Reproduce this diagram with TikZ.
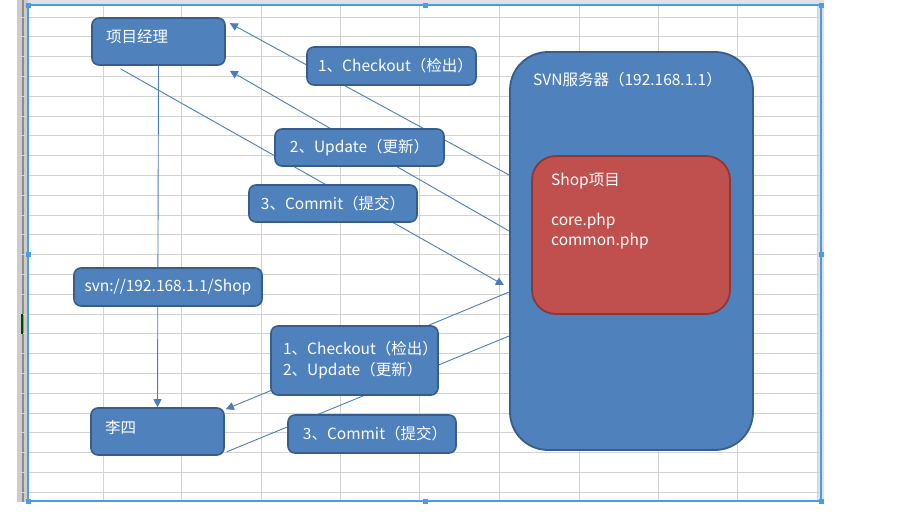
\documentclass[tikz,border=0pt]{standalone}
\usepackage{fontspec}
\setmainfont{Noto Sans CJK SC}
\usetikzlibrary{arrows.meta,backgrounds,calc,positioning}

\definecolor{boxblue}{HTML}{4F81BD}
\definecolor{boxedge}{HTML}{385D8A}
\definecolor{shopred}{HTML}{C0504D}
\definecolor{shopedge}{HTML}{8C3836}
\definecolor{linkblue}{HTML}{4A7EBB}
\definecolor{gridgrey}{HTML}{D3D3D3}
\definecolor{selblue}{HTML}{4C9BEB}

\begin{document}
\begin{tikzpicture}[x=1pt,y=-1pt]

\tikzset{bluebox/.style={draw=boxedge,fill=boxblue,line width=1.6pt,rounded corners=7pt,inner sep=0pt,text=white,font=\fontsize{15.5}{21}\selectfont},
boxtext/.style={text=white,inner sep=0pt,anchor=west,font=\fontsize{15.5}{21}\selectfont},
serverbox/.style={draw=boxedge,fill=boxblue,line width=1.8pt,rounded corners=38pt,inner sep=0pt},
shopbox/.style={draw=shopedge,fill=shopred,line width=1.8pt,rounded corners=24pt,inner sep=0pt},
link/.style={draw=linkblue,line width=0.9pt},
linkarrow/.style={link,-{Triangle[length=8pt,width=8pt]}},
gridline/.style={draw=gridgrey,line width=0.9pt}}

\useasboundingbox (0,0) rectangle (900,514);

% Client nodes
\node[bluebox,minimum width=133pt,minimum height=47pt] (pm) at (158.5,41.5) {};
\node[boxtext] (pmText) at (106,37) {项目经理};
\node[bluebox,minimum width=188pt,minimum height=38pt] (url) at (168,287) {svn://192.168.1.1/Shop};
\node[bluebox,minimum width=133pt,minimum height=47pt] (ls) at (157.5,431.5) {};
\node[boxtext] (lsText) at (105,428) {李四};

% Server nodes
\node[serverbox,minimum width=243pt,minimum height=398pt] (svn) at (631.5,251) {};
\node[boxtext] (svnText) at (533,80) {SVN服务器（192.168.1.1）};
\node[shopbox,minimum width=198pt,minimum height=158pt] (shop) at (631,235) {};
\node[boxtext] (shopText) at (551,181) {Shop项目};
\node[boxtext] (coreText) at (551,221) {core.php};
\node[boxtext] (commonText) at (551,241) {common.php};

% Operation labels
\node[bluebox,minimum width=169pt,minimum height=38pt] (co1) at (391.5,66) {\hspace{8pt}1、Checkout（检出）};
\node[bluebox,minimum width=169pt,minimum height=37pt] (up1) at (359.5,147.5) {2、Update（更新）};
\node[bluebox,minimum width=168pt,minimum height=37pt] (cm1) at (333,203.5) {3、Commit（提交）};
\node[bluebox,minimum width=167pt,minimum height=69pt,align=left] (co2) at (354.5,360.5) {\hspace*{12pt}1、Checkout（检出）\\\hspace*{12pt}2、Update（更新）};
\node[bluebox,minimum width=168pt,minimum height=38pt] (cm2) at (372,434) {\hspace{6pt}3、Commit（提交）};

\begin{scope}[on background layer]
% Sheet
\fill[white] (0,0) rectangle (900,514);
\fill[black!20] (17,0) rectangle (28,502);
\fill[black!12] (28,0) rectangle (824,5);
\fill[black!12] (817,5) rectangle (824,502);
\draw[black!45,line width=1.2pt] (23,0) -- (23,502);
\foreach \x in {103,181,261,340,419,499,579,658,737,817} \draw[gridline] (\x,5) -- (\x,500);
\foreach \k in {0,...,24} \draw[gridline] (17,{17+19.8*\k}) -- (822,{17+19.8*\k});
\fill[green!30!black] (20.5,314) rectangle (23,334);
\draw[selblue,line width=1.5pt] (28,5) rectangle (821,501);
\foreach \hx/\hy in {28/5,425/5,821/5,28/254,821/254,28/501,425/501,821/501} \fill[selblue] (\hx-2.5,\hy-2.5) rectangle +(5,5);

% Edges
\draw[linkarrow] (pm.south) -- (ls.north);
\draw[linkarrow] (svn.west |- 0,175) -- ($(pm.north east)+(4,6)$);
\draw[linkarrow] (svn.west |- 0,231) -- ($(pm.south east)+(4,5)$);
\draw[linkarrow,shorten >=6pt] ($(pm.south)+(-38,3)$) -- (svn.west |- 0,288);
\draw[linkarrow] (svn.west |- 0,292) -- ($(ls.north east)+(1,2)$);
\draw[link] ($(ls.south east)+(2,-4)$) -- (svn.west |- 0,336);
\end{scope}

\end{tikzpicture}
\end{document}
